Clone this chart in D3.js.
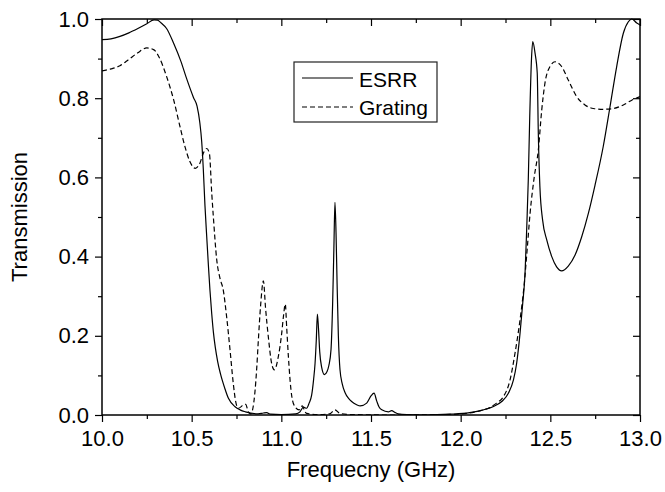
<!DOCTYPE html>
<html>
<head>
<meta charset="utf-8">
<script src="https://cdn.jsdelivr.net/npm/d3@7"></script>
<style>
  html, body { margin: 0; padding: 0; background: #fff; }
  svg { display: block; }
  text { font-family: "Liberation Sans", Arial, Helvetica, sans-serif; fill: #000; }
</style>
</head>
<body>
<svg id="chart" width="665" height="492"></svg>
<script>
// ---- data ----
const esrrFreq = [10.00,10.05,10.10,10.15,10.20,10.25,10.29,10.31,10.33,10.36,10.40,10.44,10.47,10.51,10.53,10.545,10.556,10.565,10.574,10.584,10.593,10.602,10.612,10.621,10.632,10.645,10.66,10.685,10.705,10.742,10.77,10.80,10.87,10.90,10.918,10.94,11.00,11.08,11.104,11.123,11.141,11.155,11.169,11.18,11.188,11.195,11.201,11.207,11.214,11.225,11.240,11.255,11.265,11.277,11.286,11.293,11.299,11.305,11.311,11.318,11.327,11.340,11.355,11.375,11.392,11.42,11.44,11.476,11.50,11.517,11.532,11.545,11.560,11.597,11.615,11.635,11.652,11.70,11.80,11.94,12.05,12.126,12.18,12.229,12.266,12.294,12.312,12.331,12.346,12.359,12.368,12.377,12.385,12.395,12.402,12.415,12.427,12.433,12.442,12.457,12.480,12.508,12.535,12.563,12.600,12.638,12.675,12.712,12.749,12.795,12.833,12.870,12.907,12.935,12.954,12.982,13.00];
const esrrT = [0.948,0.950,0.956,0.965,0.976,0.988,0.998,0.997,0.990,0.976,0.938,0.893,0.852,0.802,0.780,0.740,0.690,0.620,0.530,0.450,0.380,0.315,0.255,0.210,0.170,0.135,0.105,0.067,0.042,0.021,0.013,0.008,0.003,0.005,0.006,0.002,0.001,0.003,0.008,0.020,0.017,0.030,0.050,0.090,0.130,0.190,0.255,0.220,0.160,0.120,0.102,0.110,0.125,0.165,0.280,0.420,0.537,0.460,0.330,0.200,0.115,0.078,0.057,0.042,0.034,0.026,0.023,0.030,0.048,0.055,0.035,0.020,0.013,0.008,0.011,0.006,0.003,0.001,0.000,0.002,0.006,0.013,0.021,0.034,0.055,0.088,0.130,0.206,0.282,0.358,0.467,0.593,0.750,0.900,0.943,0.913,0.863,0.711,0.575,0.492,0.442,0.400,0.374,0.364,0.376,0.404,0.450,0.509,0.580,0.678,0.779,0.880,0.964,0.993,1.000,0.990,0.985];

const gratFreq = [10.00,10.05,10.10,10.15,10.20,10.25,10.29,10.32,10.36,10.40,10.435,10.463,10.49,10.52,10.546,10.565,10.584,10.599,10.612,10.621,10.640,10.658,10.676,10.695,10.714,10.732,10.745,10.760,10.788,10.801,10.816,10.830,10.853,10.863,10.872,10.885,10.900,10.912,10.928,10.946,10.961,10.983,11.002,11.012,11.022,11.030,11.039,11.058,11.076,11.099,11.117,11.130,11.141,11.20,11.27,11.299,11.327,11.40,11.60,11.90,12.05,12.12,12.163,12.20,12.238,12.275,12.303,12.331,12.353,12.372,12.387,12.41,12.433,12.452,12.470,12.498,12.526,12.563,12.600,12.647,12.693,12.740,12.795,12.851,12.907,12.954,13.00];
const gratT = [0.869,0.874,0.882,0.898,0.915,0.927,0.922,0.902,0.855,0.795,0.728,0.677,0.640,0.623,0.636,0.661,0.673,0.660,0.560,0.500,0.391,0.345,0.316,0.248,0.164,0.080,0.035,0.017,0.025,0.027,0.008,0.003,0.059,0.120,0.190,0.280,0.339,0.270,0.195,0.130,0.114,0.147,0.206,0.250,0.280,0.220,0.150,0.048,0.021,0.013,0.023,0.010,0.004,0.001,0.003,0.013,0.004,0.001,0.000,0.001,0.005,0.012,0.019,0.030,0.046,0.088,0.156,0.240,0.324,0.425,0.509,0.600,0.669,0.770,0.838,0.880,0.892,0.880,0.846,0.804,0.783,0.774,0.772,0.774,0.783,0.795,0.804];

const xMajorTicks = [10.0, 10.5, 11.0, 11.5, 12.0, 12.5, 13.0];
const xMinorTicks = [10.25, 10.75, 11.25, 11.75, 12.25, 12.75];
const yMajorTicks = [0.0, 0.2, 0.4, 0.6, 0.8, 1.0];
const yMinorTicks = [0.1, 0.3, 0.5, 0.7, 0.9];
const seriesNames = ["ESRR", "Grating"];
const xTitle = "Frequecny (GHz)";
const yTitle = "Transmission";

// ---- layout ----
const L = 102, R = 640, T = 19, B = 415;
const svg = d3.select("#chart");
const x = d3.scaleLinear().domain([10, 13]).range([L, R]);
const y = d3.scaleLinear().domain([0, 1]).range([B, T]);

const fmt = d3.format(".1f");
const major = 7, minor = 4;

function styleAxis(g) {
  g.select(".domain").remove();
  g.selectAll(".tick line").attr("stroke", "#000").attr("stroke-width", 1.2);
  g.selectAll("text").style("font-size", "22px").attr("fill", "#000");
}

// bottom
svg.append("g").attr("transform", `translate(0,${B})`)
  .call(d3.axisBottom(x).tickValues(xMajorTicks).tickFormat(fmt).tickSize(major).tickPadding(8))
  .call(styleAxis);
svg.append("g").attr("transform", `translate(0,${B})`)
  .call(d3.axisBottom(x).tickValues(xMinorTicks).tickFormat("").tickSize(minor))
  .call(styleAxis);
// top (inward)
svg.append("g").attr("transform", `translate(0,${T})`)
  .call(d3.axisTop(x).tickValues(xMajorTicks).tickFormat("").tickSize(-major))
  .call(styleAxis);
svg.append("g").attr("transform", `translate(0,${T})`)
  .call(d3.axisTop(x).tickValues(xMinorTicks).tickFormat("").tickSize(-minor))
  .call(styleAxis);
// left
svg.append("g").attr("transform", `translate(${L},0)`)
  .call(d3.axisLeft(y).tickValues(yMajorTicks).tickFormat(fmt).tickSize(major).tickPadding(6))
  .call(styleAxis);
svg.append("g").attr("transform", `translate(${L},0)`)
  .call(d3.axisLeft(y).tickValues(yMinorTicks).tickFormat("").tickSize(minor))
  .call(styleAxis);
// right (inward)
svg.append("g").attr("transform", `translate(${R},0)`)
  .call(d3.axisRight(y).tickValues(yMajorTicks).tickFormat("").tickSize(-major))
  .call(styleAxis);
svg.append("g").attr("transform", `translate(${R},0)`)
  .call(d3.axisRight(y).tickValues(yMinorTicks).tickFormat("").tickSize(-minor))
  .call(styleAxis);

// curves
const clipId = "plotclip";
svg.append("clipPath").attr("id", clipId).append("rect")
  .attr("x", L).attr("y", T - 2).attr("width", R - L).attr("height", B - T + 2);

const line = d3.line().x(d => x(d[0])).y(d => y(d[1])).curve(d3.curveMonotoneX);
const esrr = esrrFreq.map((f, i) => [f, esrrT[i]]);
const grat = gratFreq.map((f, i) => [f, gratT[i]]);

const plot = svg.append("g").attr("clip-path", `url(#${clipId})`);
plot.append("path").datum(grat).attr("d", line)
  .attr("fill", "none").attr("stroke", "#000").attr("stroke-width", 1.2)
  .attr("stroke-dasharray", "5,3");
plot.append("path").datum(esrr).attr("d", line)
  .attr("fill", "none").attr("stroke", "#000").attr("stroke-width", 1.2);

// frame
svg.append("rect").attr("x", L).attr("y", T).attr("width", R - L).attr("height", B - T)
  .attr("fill", "none").attr("stroke", "#000").attr("stroke-width", 1.5);

// titles
svg.append("text").attr("x", (L + R) / 2).attr("y", 477).attr("text-anchor", "middle")
  .style("font-size", "22px").text(xTitle);
svg.append("text").attr("transform", `translate(27,${(T + B) / 2}) rotate(-90)`)
  .attr("text-anchor", "middle").style("font-size", "22px").text(yTitle);

// legend
const lg = svg.append("g");
lg.append("rect").attr("x", 294).attr("y", 62).attr("width", 143).attr("height", 60)
  .attr("fill", "#fff").attr("stroke", "#222").attr("stroke-width", 1.2);
const legendRows = [{name: seriesNames[0], dash: null, ly: 78, ty: 87},
                    {name: seriesNames[1], dash: "5,3", ly: 107, ty: 115}];
legendRows.forEach(r => {
  lg.append("line").attr("x1", 302).attr("x2", 353).attr("y1", r.ly).attr("y2", r.ly)
    .attr("stroke", "#000").attr("stroke-width", 1.2)
    .attr("stroke-dasharray", r.dash);
  lg.append("text").attr("x", 359).attr("y", r.ty).style("font-size", "21px").text(r.name);
});
</script>
</body>
</html>
